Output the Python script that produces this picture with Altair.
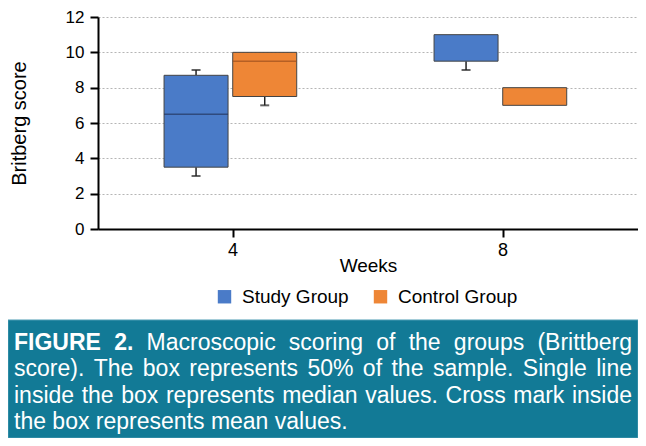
import altair as alt
import pandas as pd

# ---------------- data ----------------
weeks = ["4", "4", "8", "8"]
groups = ["Study Group", "Control Group", "Study Group", "Control Group"]
whisker_low = [3.0, 7.0, 9.0, 7.0]
q1 = [3.5, 7.5, 9.5, 7.0]
median = [6.5, 9.5, None, None]
q3 = [8.7, 10.0, 11.0, 8.0]
whisker_high = [9.0, 10.0, 11.0, 8.0]

week_order = ["4", "8"]
group_order = ["Study Group", "Control Group"]
y_ticks = [0, 2, 4, 6, 8, 10, 12]

caption_bold = "FIGURE 2."
caption_lines = [
    "FIGURE 2. Macroscopic scoring of the groups (Brittberg",
    "score). The box represents 50% of the sample. Single line",
    "inside the box represents median values. Cross mark inside",
    "the box represents mean values.",
]

# ---------------- style ----------------
box_colors = ["#4a7bc8", "#ee8636"]
median_colors = ["#23365e", "#9c4f1c"]
FONT = "Liberation Sans"
TOP = 9
W, H = 540, 216 - (TOP - 5)
PAD = {"left": 90, "top": TOP, "right": 0, "bottom": 430 - TOP - H}
OFF = TOP - 5  # shift for fixed page positions below the plot

df = pd.DataFrame({
    "week": weeks, "group": groups, "low": whisker_low, "q1": q1,
    "median": median, "q3": q3, "high": whisker_high,
})

# ---------------- caption word layout (Arial / Liberation metrics) ----------------
REG = {" ": 278, "(": 333, ")": 333, "%": 889, ".": 278,
       "0": 556, "1": 556, "2": 556, "3": 556, "4": 556, "5": 556, "6": 556, "7": 556, "8": 556, "9": 556,
       "A": 667, "B": 667, "C": 722, "D": 722, "E": 667, "F": 611, "G": 778, "H": 722, "I": 278,
       "M": 833, "R": 722, "S": 667, "T": 611, "U": 722,
       "a": 556, "b": 556, "c": 500, "d": 556, "e": 556, "f": 278, "g": 556, "h": 556, "i": 222,
       "j": 222, "k": 500, "l": 222, "m": 833, "n": 556, "o": 556, "p": 556, "q": 556, "r": 333,
       "s": 500, "t": 278, "u": 556, "v": 500, "w": 722, "x": 500, "y": 500, "z": 500}
BOLD = {" ": 278, ".": 278, "2": 556, "F": 611, "I": 278, "G": 778, "U": 722, "R": 722, "E": 667}
CAP_SIZE = 23
CAP_LEFT, CAP_RIGHT = -84, 534
CAP_BASE = [337 - OFF, 363.3 - OFF, 389.7 - OFF, 416 - OFF]
n_bold = len(caption_bold.split(" "))

rows = []
for li, line in enumerate(caption_lines):
    words = line.split(" ")
    bolds = [li == 0 and wi < n_bold for wi in range(len(words))]
    widths = [sum((BOLD if b else REG).get(c, 556) for c in wd) * CAP_SIZE / 1000
              for wd, b in zip(words, bolds)]
    if li < len(caption_lines) - 1:
        gap = (CAP_RIGHT - CAP_LEFT - sum(widths)) / (len(words) - 1)
    else:
        gap = REG[" "] * CAP_SIZE / 1000
    x = CAP_LEFT
    for wd, b, wdt in zip(words, bolds, widths):
        rows.append({"word": wd, "bold": b, "px": x, "py": CAP_BASE[li]})
        x += wdt + gap
words_df = pd.DataFrame(rows)

# ---------------- encodings ----------------
x_enc = alt.X(
    "week:N", sort=week_order, title="Weeks",
    scale=alt.Scale(domain=week_order, paddingInner=0, paddingOuter=0),
    axis=alt.Axis(labelAngle=0, labelFontSize=18, labelPadding=4, labelColor="black",
                  domainColor="black", domainWidth=2, tickColor="black", tickWidth=2,
                  tickSize=8, titleFontSize=19, titleFontWeight="normal", titleColor="black",
                  titleBaseline="alphabetic", titleY=42, grid=False),
)
xo_enc = alt.XOffset(
    "group:N", sort=group_order,
    scale=alt.Scale(domain=group_order, paddingInner=0.068, paddingOuter=1, align=0.481),
)
y_axis = alt.Axis(values=y_ticks, labelFontSize=17, labelPadding=6, labelColor="black",
                  domainColor="black", domainWidth=2, tickColor="black", tickWidth=2, tickSize=8,
                  grid=True, gridDash=[2, 2], gridColor="#b5b5b5", gridWidth=1,
                  titleFontSize=20, titleFontWeight="normal", titleColor="black",
                  titleAngle=-90, titleAlign="center", titleBaseline="middle",
                  titleX=-79, titleY=H / 2)
y_scale = alt.Scale(domain=[0, 12], nice=False)


def Y(field):
    return alt.Y(field, scale=y_scale, axis=y_axis, title="Britberg score")


base = alt.Chart(df)

low_whisk = base.transform_filter("datum.low < datum.q1").mark_rule(
    color="#222222", strokeWidth=1.5).encode(x=x_enc, xOffset=xo_enc, y=Y("low:Q"), y2="q1:Q")
high_whisk = base.transform_filter("datum.high > datum.q3").mark_rule(
    color="#222222", strokeWidth=1.5).encode(x=x_enc, xOffset=xo_enc, y=Y("q3:Q"), y2="high:Q")
low_cap = base.transform_filter("datum.low < datum.q1").mark_tick(
    color="#222222", size=9, thickness=2).encode(x=x_enc, xOffset=xo_enc, y=Y("low:Q"))
high_cap = base.transform_filter("datum.high > datum.q3").mark_tick(
    color="#222222", size=9, thickness=2).encode(x=x_enc, xOffset=xo_enc, y=Y("high:Q"))

boxes = base.mark_bar(stroke="#444444", strokeWidth=1).encode(
    x=x_enc, xOffset=xo_enc, y=Y("q1:Q"), y2="q3:Q",
    color=alt.Color("group:N", sort=group_order,
                    scale=alt.Scale(domain=group_order, range=box_colors),
                    legend=alt.Legend(title=None, orient="none", direction="horizontal",
                                      legendX=117, legendY=274 - OFF, symbolType="square",
                                      symbolSize=180, symbolStrokeWidth=0, labelFontSize=19,
                                      labelColor="black", labelOffset=8, columnPadding=22,
                                      padding=0)),
)

medians = base.transform_filter("isValid(datum.median)").mark_tick(
    size=64, thickness=1.5).encode(
    x=x_enc, xOffset=xo_enc, y=Y("median:Q"),
    color=alt.Color("group:N", sort=group_order,
                    scale=alt.Scale(domain=group_order, range=median_colors), legend=None),
)

cap_rect = alt.Chart(pd.DataFrame({"k": [0]})).mark_rect(
    color="#127a96", stroke="#4a9bb3", strokeWidth=1).encode(
    x=alt.value(-90), x2=alt.value(540), y=alt.value(307 - OFF), y2=alt.value(425 - OFF))

cap_bold = alt.Chart(words_df).transform_filter("datum.bold").mark_text(
    align="left", baseline="alphabetic", fontSize=CAP_SIZE, color="white",
    font=FONT, fontWeight="bold").encode(
    x=alt.X("px:Q", scale=None, axis=None), y=alt.Y("py:Q", scale=None, axis=None),
    text="word:N")
cap_reg = alt.Chart(words_df).transform_filter("!datum.bold").mark_text(
    align="left", baseline="alphabetic", fontSize=CAP_SIZE, color="white",
    font=FONT).encode(
    x=alt.X("px:Q", scale=None, axis=None), y=alt.Y("py:Q", scale=None, axis=None),
    text="word:N")

chart = alt.layer(
    low_whisk, high_whisk, low_cap, high_cap, boxes, medians, cap_rect, cap_bold, cap_reg
).resolve_scale(color="independent").properties(
    width=W, height=H,
    autosize=alt.AutoSizeParams(type="none"),
    padding=PAD,
).configure(font=FONT).configure_view(stroke=None)

chart.save("out.html", embed_options={"renderer": "svg", "actions": False})
